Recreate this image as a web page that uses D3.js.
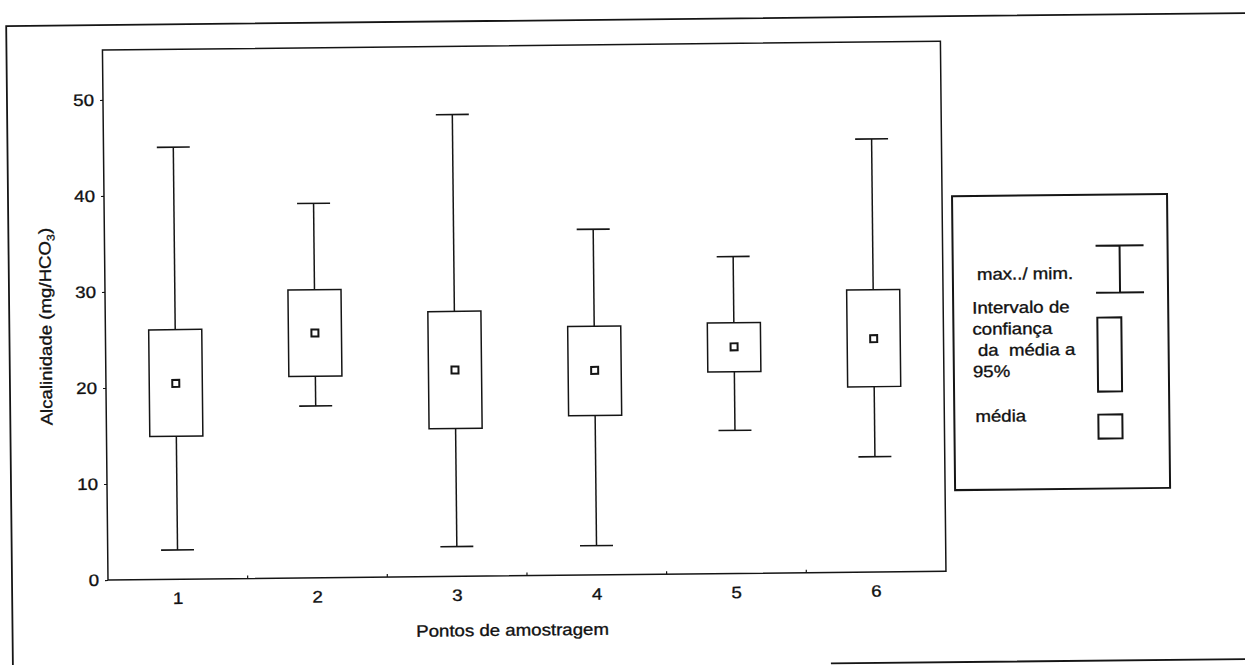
<!DOCTYPE html>
<html>
<head>
<meta charset="utf-8">
<script src="https://cdn.jsdelivr.net/npm/d3@7/dist/d3.min.js"></script>
<style>
  html, body { margin: 0; padding: 0; background: #fff; }
  svg text { font-family: "Liberation Sans", Arial, sans-serif; fill: #111; stroke: #111; stroke-width: 0.35px; white-space: pre; }
</style>
</head>
<body>
<svg id="chart" width="1245" height="665"></svg>
<script>
// Alcalinidade por ponto de amostragem: min/max, IC 95% da média e média
const categories = ["1", "2", "3", "4", "5", "6"];
const maxVals   = [45.0, 39.0, 48.1, 36.0, 33.0, 45.1];
const ciUpper   = [26.0, 30.0, 27.6, 25.9, 26.1, 29.4];
const means     = [20.4, 25.5, 21.5, 21.3, 23.6, 24.3];
const ciLower   = [14.9, 21.0, 15.4, 16.6, 21.0, 19.3];
const minVals   = [3.05, 17.9, 3.1, 3.05, 14.9, 12.0];
const yTicks    = [0, 10, 20, 30, 40, 50];

const xTitle = "Pontos de amostragem";
const legendRange = "max../ mim.";
const legendCI = ["Intervalo de", "confiança", " da  média a", "95%"];
const legendMean = "média";

const ink = "#151515";
const fontSize = 16.5;
const stretch = 1.13;

// widen glyphs a little (the printed face runs wide)
function widen(sel, k) {
  sel.each(function () {
    const w = this.getComputedTextLength();
    this.setAttribute("textLength", (w * k).toFixed(1));
    this.setAttribute("lengthAdjust", "spacingAndGlyphs");
  });
}

const rows = categories.map((c, i) => ({
  cat: c, max: maxVals[i], hi: ciUpper[i], mean: means[i], lo: ciLower[i], min: minVals[i]
}));

const svg = d3.select("#chart");
const root = svg.append("g").attr("transform", "rotate(-0.6,108,580)");

// outer page frame
root.append("path")
  .attr("d", "M12,671 V25 H1320 M830,671 H1320")
  .attr("fill", "none").attr("stroke", ink).attr("stroke-width", 1.8);

const plot = { left: 108, right: 946, top: 50, bottom: 580 };

const x = d3.scaleBand().domain(categories).range([plot.left, plot.right]);
const y = d3.scaleLinear().domain([0, 55.2]).range([plot.bottom, plot.top]);

// plot frame
root.append("rect")
  .attr("x", plot.left).attr("y", plot.top)
  .attr("width", plot.right - plot.left).attr("height", plot.bottom - plot.top)
  .attr("fill", "none").attr("stroke", ink).attr("stroke-width", 1.5);

// y axis
const yAxis = root.append("g")
  .attr("transform", `translate(${plot.left},0)`)
  .call(d3.axisLeft(y).tickValues(yTicks).tickSize(3).tickPadding(6));
yAxis.select(".domain").remove();
yAxis.selectAll("line").attr("stroke", ink).attr("stroke-width", 1.2);
yAxis.selectAll("text").attr("font-size", fontSize).attr("font-family", null).attr("fill", ink)
  .call(widen, stretch);

// x axis labels at category centres
const xAxis = root.append("g")
  .attr("transform", `translate(0,${plot.bottom})`)
  .call(d3.axisBottom(x).tickSize(0).tickPadding(13));
xAxis.select(".domain").remove();
xAxis.selectAll("text").attr("font-size", fontSize).attr("font-family", null).attr("fill", ink)
  .call(widen, stretch);

// small inward ticks at band boundaries
root.append("g").selectAll("line")
  .data(categories.slice(1))
  .join("line")
  .attr("x1", d => x(d)).attr("x2", d => x(d))
  .attr("y1", plot.bottom).attr("y2", plot.bottom - 3)
  .attr("stroke", ink).attr("stroke-width", 1.2);

// axis titles
root.append("text")
  .attr("x", 512).attr("y", 640)
  .attr("text-anchor", "middle").attr("font-size", fontSize)
  .text(xTitle)
  .call(widen, stretch);

const yt = root.append("text")
  .attr("transform", "translate(54,326) rotate(-90)")
  .attr("text-anchor", "middle").attr("font-size", fontSize);
yt.append("tspan").text("Alcalinidade (mg/HCO");
yt.append("tspan").attr("font-size", 11).attr("dy", 4).text("3");
yt.append("tspan").attr("dy", -4).text(")");
yt.call(widen, stretch);

// boxes: whiskers, CI rectangles, mean markers
const boxW = x.bandwidth() * 0.38;
const capW = x.bandwidth() * 0.236;
const cx = d => x(d.cat) + x.bandwidth() / 2;

const marks = root.append("g").attr("stroke", ink).attr("fill", "none");

marks.selectAll(".whisker-up").data(rows).join("line")
  .attr("x1", cx).attr("x2", cx)
  .attr("y1", d => y(d.max)).attr("y2", d => y(d.hi))
  .attr("stroke-width", 1.5);
marks.selectAll(".whisker-down").data(rows).join("line")
  .attr("x1", cx).attr("x2", cx)
  .attr("y1", d => y(d.lo)).attr("y2", d => y(d.min))
  .attr("stroke-width", 1.5);
marks.selectAll(".cap-max").data(rows).join("line")
  .attr("x1", d => cx(d) - capW / 2).attr("x2", d => cx(d) + capW / 2)
  .attr("y1", d => y(d.max)).attr("y2", d => y(d.max))
  .attr("stroke-width", 1.6);
marks.selectAll(".cap-min").data(rows).join("line")
  .attr("x1", d => cx(d) - capW / 2).attr("x2", d => cx(d) + capW / 2)
  .attr("y1", d => y(d.min)).attr("y2", d => y(d.min))
  .attr("stroke-width", 1.6);
marks.selectAll(".ci").data(rows).join("rect")
  .attr("x", d => cx(d) - boxW / 2).attr("width", boxW)
  .attr("y", d => y(d.hi)).attr("height", d => y(d.lo) - y(d.hi))
  .attr("fill", "#fff").attr("stroke-width", 1.5);
marks.selectAll(".mean").data(rows).join("rect")
  .attr("x", d => cx(d) - 3.5).attr("y", d => y(d.mean) - 3.5)
  .attr("width", 7).attr("height", 7)
  .attr("fill", "#fff").attr("stroke-width", 2);

// legend
const lg = root.append("g");
lg.append("rect")
  .attr("x", 956).attr("y", 205).attr("width", 215).attr("height", 294)
  .attr("fill", "#fff").attr("stroke", ink).attr("stroke-width", 2);

lg.append("text").attr("x", 980).attr("y", 289).attr("font-size", fontSize)
  .text(legendRange).call(widen, stretch);
lg.append("path")
  .attr("d", "M1099,256 H1147 M1123,256 V303 M1099,303 H1147")
  .attr("fill", "none").attr("stroke", ink).attr("stroke-width", 2);

lg.selectAll(".ci-label").data(legendCI).join("text")
  .attr("x", 975).attr("y", (d, i) => 322.5 + i * 21.3)
  .attr("font-size", fontSize)
  .text(d => d).call(widen, stretch);
lg.append("rect")
  .attr("x", 1100).attr("y", 328).attr("width", 24).attr("height", 74)
  .attr("fill", "none").attr("stroke", ink).attr("stroke-width", 2);

lg.append("text").attr("x", 977).attr("y", 431).attr("font-size", fontSize)
  .text(legendMean).call(widen, stretch);
lg.append("rect")
  .attr("x", 1100).attr("y", 425).attr("width", 24).attr("height", 24)
  .attr("fill", "none").attr("stroke", ink).attr("stroke-width", 2);
</script>
</body>
</html>
